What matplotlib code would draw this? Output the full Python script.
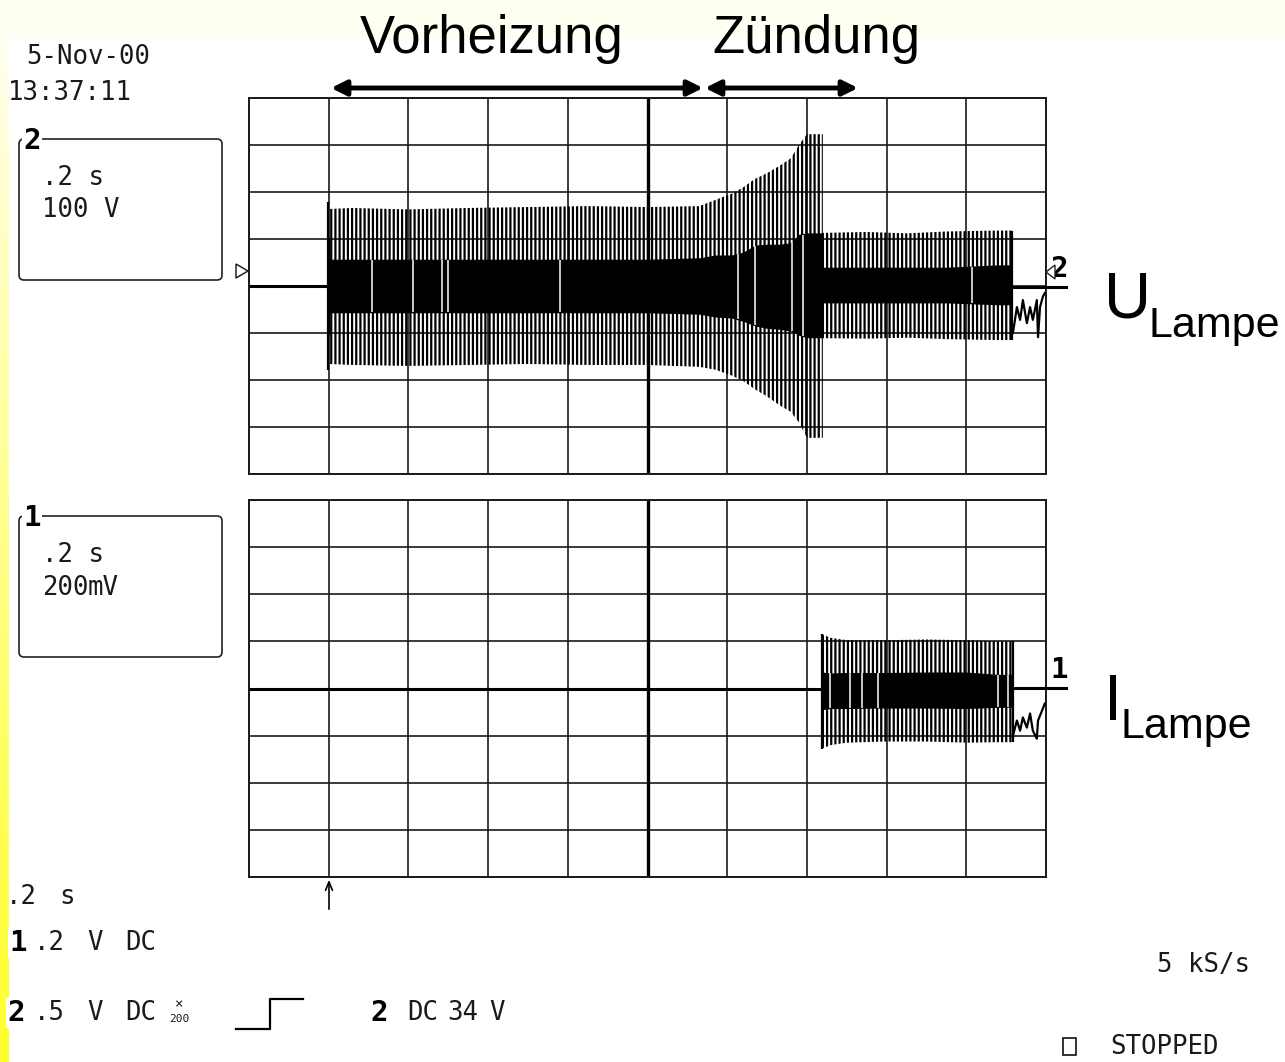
import numpy as np
import matplotlib
matplotlib.use('Agg')
import matplotlib.pyplot as plt
from matplotlib.patches import FancyBboxPatch, Rectangle, Polygon

# ---------------- data ----------------
# time in s (0.2 s/div, 10 div), U in V (100 V/div), I channel in mV (200 mV/div)
u_pre_t = [0.0, 0.198]
u_pre_v = [0, 0]
u_t       = [0.198, 0.203, 0.203, 0.26, 0.40, 0.55, 0.70, 0.85, 1.00, 1.13,
             1.17, 1.21, 1.24, 1.27, 1.30, 1.33, 1.36, 1.38, 1.40, 1.44,
             1.44, 1.55, 1.65, 1.75, 1.88, 1.915]
u_peak_hi = [179, 179, 164, 166, 163, 166, 168, 170, 168, 170,
             183, 196, 210, 228, 240, 255, 272, 300, 323, 323,
             113, 115, 112, 116, 118, 118]
u_peak_lo = [-179, -179, -166, -168, -170, -168, -166, -168, -168, -172,
             -178, -190, -202, -220, -235, -253, -268, -290, -323, -323,
             -111, -112, -110, -113, -115, -115]
u_band_hi = [102, 102, 57, 57, 57, 57, 57, 57, 57, 60,
             66, 66, 72, 87, 89, 89, 92, 110, 113, 113,
             40, 40, 40, 40, 45, 45]
u_band_lo = [-104, -104, -57, -57, -57, -57, -57, -57, -57, -60,
             -66, -68, -75, -85, -90, -92, -96, -105, -110, -110,
             -36, -36, -36, -36, -40, -40]
u_gap_t = [0.309, 0.412, 0.484, 0.499, 0.780, 1.227, 1.270, 1.363, 1.390, 1.814]
u_tail_t = [1.917, 1.927, 1.935, 1.942, 1.952, 1.960, 1.967, 1.977, 1.980, 1.985, 1.992, 1.997]
u_tail_v = [-100, -45, -72, -30, -79, -45, -72, -30, -109, -45, -23, -15]

i_pre_t = [0.0, 1.438]
i_pre_v = [0, 0]
i_t       = [1.438, 1.46, 1.50, 1.60, 1.70, 1.80, 1.88, 1.917]
i_peak_hi = [230, 215, 205, 205, 208, 205, 200, 200]
i_peak_lo = [-255, -240, -230, -225, -225, -230, -228, -228]
i_band_hi = [70, 66, 68, 68, 70, 70, 60, 60]
i_band_lo = [-90, -85, -85, -83, -83, -85, -80, -80]
i_gap_t = [1.458, 1.508, 1.538, 1.578, 1.880, 1.905]
i_tail_t = [1.917, 1.927, 1.935, 1.942, 1.952, 1.960, 1.967, 1.977, 1.980, 1.990, 1.997]
i_tail_v = [-200, -136, -179, -123, -166, -106, -179, -213, -136, -94, -64]

# ---------------- figure ----------------
W, H = 1285, 1062
plt.rcParams['hatch.linewidth'] = 1.6
fig = plt.figure(figsize=(W / 100, H / 100), dpi=100)
fig.patch.set_facecolor('#FFFFF2')

def px_axes(x0, y0, x1, y1, **kw):
    return fig.add_axes([x0 / W, 1 - y1 / H, (x1 - x0) / W, (y1 - y0) / H], **kw)

# background: white scope area + yellow gradient strip on the left
bg = fig.add_axes([0, 0, 1, 1], zorder=-10)
bg.set_xlim(0, W); bg.set_ylim(H, 0); bg.axis('off')
bg.add_patch(Rectangle((9, 38), W - 9, H - 38, facecolor='white', edgecolor='none'))
grad = np.linspace(0, 1, 256)
cols = np.ones((256, 1, 3))
cols[:, 0, 2] = 0.95 - 0.78 * grad ** 0.9
bg.imshow(cols, extent=(0, 9, H, 38), aspect='auto', interpolation='bilinear')

ax_u = px_axes(249, 98, 1046, 474)
ax_i = px_axes(249, 500, 1046, 877)

for ax, lim, step in ((ax_u, 400, 100), (ax_i, 800, 200)):
    ax.set_facecolor('white')
    ax.set_xlim(0, 2.0)
    ax.set_ylim(-lim, lim)
    ax.set_xticks(np.linspace(0, 2.0, 11))
    ax.set_yticks(np.arange(-lim, lim + 1, step))
    ax.tick_params(length=0, labelbottom=False, labelleft=False)
    ax.grid(True, color='#1a1a1a', lw=1.2)
    ax.set_axisbelow(True)
    for s in ax.spines.values():
        s.set_linewidth(1.4)
        s.set_color('#1a1a1a')
    ax.axvline(1.0, color='black', lw=2.4, zorder=1.5)

def draw_trace(ax, pre_t, pre_v, t, phi, plo, bhi, blo, gaps, tail_t, tail_v):
    ax.plot(pre_t, pre_v, color='black', lw=2.2, zorder=3, solid_capstyle='butt')
    ax.fill_between(t, plo, phi, facecolor='none', edgecolor='black',
                    linewidth=0, hatch='||||', zorder=3)
    ax.fill_between(t, blo, bhi, color='black', linewidth=0, zorder=4)
    ax.vlines([t[0], t[-1]], [plo[0], plo[-1]], [phi[0], phi[-1]], color='black', lw=1.6, zorder=4)
    for g in gaps:
        lo = np.interp(g, t, blo)
        hi = np.interp(g, t, bhi)
        ax.vlines(g, lo + 2, hi - 2, color='#d8d8d8', lw=1.3, zorder=5)
    ax.plot(tail_t, tail_v, color='black', lw=1.6, zorder=4)

draw_trace(ax_u, u_pre_t, u_pre_v, u_t, u_peak_hi, u_peak_lo, u_band_hi, u_band_lo,
           u_gap_t, u_tail_t, u_tail_v)
draw_trace(ax_i, i_pre_t, i_pre_v, i_t, i_peak_hi, i_peak_lo, i_band_hi, i_band_lo,
           i_gap_t, i_tail_t, i_tail_v)

# ---------------- overlay (annotations in pixel coordinates) ----------------
ov = fig.add_axes([0, 0, 1, 1], zorder=10)
ov.set_xlim(0, W); ov.set_ylim(H, 0); ov.axis('off'); ov.patch.set_alpha(0)

MONO = 'DejaVu Sans Mono'
def mono(x, y, s, size=18.5, ha='left', **kw):
    ov.text(x, y, s, fontsize=size, family=MONO, ha=ha, va='center', color='#1a1a1a', **kw)
def bold(x, y, s, size=21):
    ov.text(x, y, s, fontsize=size, family=MONO, fontweight='bold', ha='left', va='center',
            color='black', bbox=dict(boxstyle='square,pad=0.05', fc='white', ec='none'))

mono(26, 57, '5-Nov-00')
mono(8, 93, '13:37:11')

for (y0, y1, lab, l1, l2) in ((139, 280, '2', '.2 s', '100 V'), (516, 657, '1', '.2 s', None)):
    ov.add_patch(FancyBboxPatch((19, y0), 203, y1 - y0, boxstyle='round,pad=0,rounding_size=5',
                                fc='none', ec='#222222', lw=1.2))
    bold(23, y0 + 2, lab)
    mono(42, y0 + 39, l1)
    if l2:
        mono(42, y0 + 71, l2)
mono(42, 588, '200')
mono(88, 588, 'mV')

# left marker triangle of channel 2
ov.add_patch(Polygon([(236, 264), (236, 278), (248, 271)], closed=True, fc='white', ec='#222222', lw=1.1))
# right channel markers
for yb, lab in ((287, '2'), (688, '1')):
    ov.plot([1013, 1066], [yb, yb], color='black', lw=2.2)
    ov.text(1050, yb - 18, lab, fontsize=21, family=MONO, fontweight='bold', ha='left', va='center')
ov.add_patch(Polygon([(1055, 265), (1055, 279), (1046, 272)], closed=True, fc='white', ec='#222222', lw=1.0, zorder=5))

# trigger arrow
ov.annotate('', xy=(329, 877), xytext=(329, 912),
            arrowprops=dict(arrowstyle='->,head_length=0.6,head_width=0.25', lw=1.2, color='black'))

# bottom status text
mono(21, 897, '.2', ha='center')
mono(67, 897, 's', ha='center')
bold(9, 943, '1')
mono(49, 943, '.2', ha='center')
mono(95, 943, 'V', ha='center')
mono(141, 943, 'DC', ha='center')
bold(7, 1013, '2')
mono(49, 1013, '.5', ha='center')
mono(95, 1013, 'V', ha='center')
mono(141, 1013, 'DC', ha='center')
mono(179, 1004, '×', size=10, ha='center')
mono(179, 1019, '200', size=8, ha='center')
ov.plot([236, 270, 270, 303], [1029, 1029, 999, 999], color='black', lw=1.6)
bold(370, 1013, '2')
mono(423, 1013, 'DC', ha='center')
mono(463, 1013, '34', ha='center')
mono(497, 1013, 'V', ha='center')
mono(1250, 965, '5 kS/s', ha='right')
ov.add_patch(Rectangle((1063, 1038), 13, 17, fc='none', ec='#111111', lw=1.2))
mono(1110, 1047, 'STOPPED')

# phase labels and arrows
SANS = 'Liberation Sans'
ov.text(360, 53, 'Vorheizung', fontsize=38, family=SANS, ha='left', va='baseline')
ov.text(712, 53, 'Zündung', fontsize=38, family=SANS, ha='left', va='baseline')
for xa, xb in ((331, 703), (705, 858)):
    ov.annotate('', xy=(xa, 88), xytext=(xb, 88),
                arrowprops=dict(arrowstyle='<|-|>,head_length=0.9,head_width=0.45',
                                lw=3.5, color='black', shrinkA=0, shrinkB=0))

# channel names
ov.text(1104, 318, 'U', fontsize=47, family=SANS, ha='left', va='baseline')
ov.text(1149, 337, 'Lampe', fontsize=31, family=SANS, ha='left', va='baseline')
ov.text(1104, 720, 'I', fontsize=47, family=SANS, ha='left', va='baseline')
ov.text(1121, 738, 'Lampe', fontsize=31, family=SANS, ha='left', va='baseline')

fig.savefig('out.png', dpi=100, facecolor=fig.get_facecolor())
